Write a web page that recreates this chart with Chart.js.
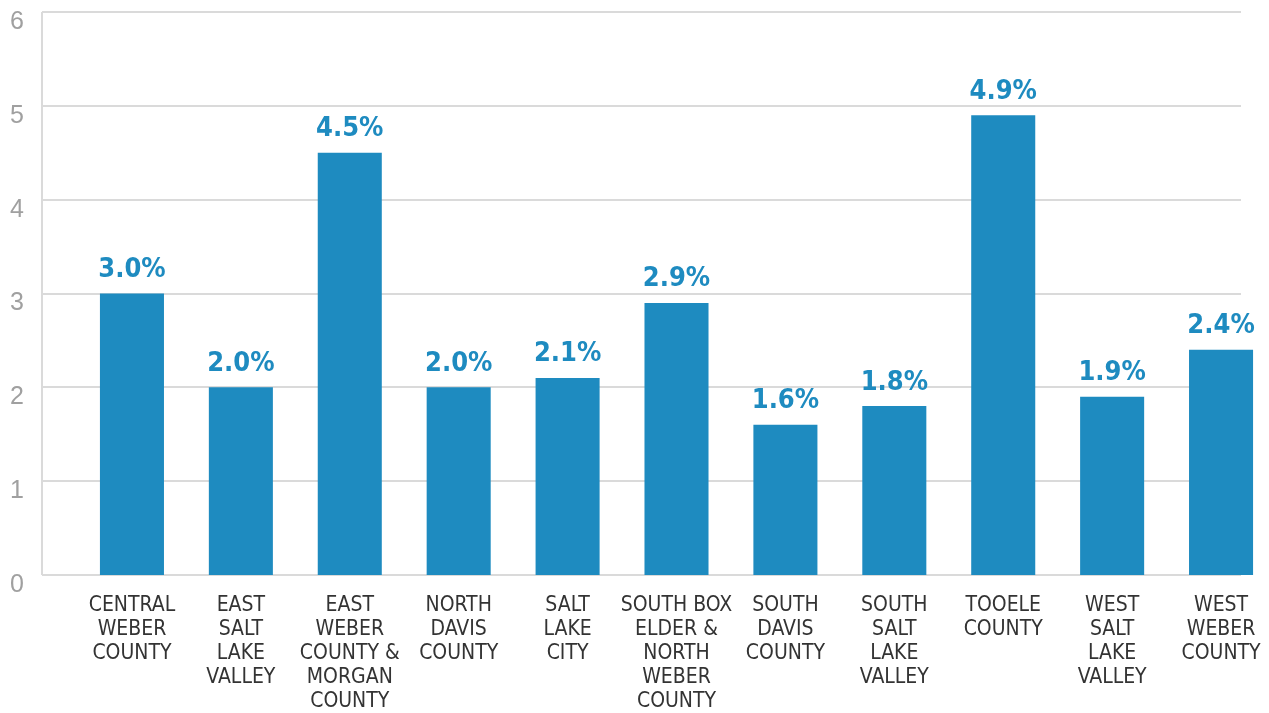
<!DOCTYPE html>
<html>
<head>
<meta charset="utf-8">
<script src="https://cdn.jsdelivr.net/npm/chart.js@4/dist/chart.umd.min.js"></script>
<style>
  html, body { margin: 0; padding: 0; background: #fff; overflow: hidden; }
  #wrap { width: 1290px; height: 713px; position: relative; }
</style>
</head>
<body>
<div id="wrap"><canvas id="rateChart"></canvas></div>
<script>
// Regions (multi-line labels as drawn under each bar)
const regions = [
    ["CENTRAL", "WEBER", "COUNTY"],
    ["EAST", "SALT", "LAKE", "VALLEY"],
    ["EAST", "WEBER", "COUNTY &", "MORGAN", "COUNTY"],
    ["NORTH", "DAVIS", "COUNTY"],
    ["SALT", "LAKE", "CITY"],
    ["SOUTH BOX", "ELDER &", "NORTH", "WEBER", "COUNTY"],
    ["SOUTH", "DAVIS", "COUNTY"],
    ["SOUTH", "SALT", "LAKE", "VALLEY"],
    ["TOOELE", "COUNTY"],
    ["WEST", "SALT", "LAKE", "VALLEY"],
    ["WEST", "WEBER", "COUNTY"]
];
const rates = [3.0, 2.0, 4.5, 2.0, 2.1, 2.9, 1.6, 1.8, 4.9, 1.9, 2.4];
const yTicks = [0, 1, 2, 3, 4, 5, 6];

const BLUE = "#1e8bc0";
const NARROW = "'Liberation Sans Narrow', 'DejaVu Sans Condensed', 'Liberation Sans', sans-serif";

// horizontal grid lines + left axis line, drawn wider than the bar area
const gridPlugin = {
    id: "gridLines",
    beforeDatasetsDraw(chart) {
        const ctx = chart.ctx;
        const y = chart.scales.y;
        const x0 = 42, x1 = 1241;
        ctx.save();
        ctx.strokeStyle = "#dadada";
        ctx.lineWidth = 2;
        yTicks.forEach(v => {
            const py = Math.round(y.getPixelForValue(v));
            ctx.beginPath();
            ctx.moveTo(x0, py);
            ctx.lineTo(x1, py);
            ctx.stroke();
        });
        ctx.beginPath();
        ctx.moveTo(x0, y.getPixelForValue(yTicks[yTicks.length - 1]));
        ctx.lineTo(x0, y.getPixelForValue(0));
        ctx.stroke();
        ctx.restore();
    }
};

// percentage labels above each bar
const valueLabels = {
    id: "valueLabels",
    afterDatasetsDraw(chart) {
        const ctx = chart.ctx;
        const meta = chart.getDatasetMeta(0);
        ctx.save();
        ctx.fillStyle = BLUE;
        ctx.font = "bold 27px " + NARROW;
        ctx.textAlign = "center";
        ctx.textBaseline = "bottom";
        meta.data.forEach((bar, i) => {
            ctx.fillText(rates[i].toFixed(1) + "%", bar.x, bar.y - 10);
        });
        ctx.restore();
    }
};

new Chart(document.getElementById("rateChart").getContext("2d"), {
    type: "bar",
    data: {
        labels: regions,
        datasets: [{
            data: rates,
            backgroundColor: BLUE,
            categoryPercentage: 1,
            barPercentage: 0.588,
            clip: false
        }]
    },
    options: {
        responsive: true,
        maintainAspectRatio: false,
        animation: false,
        layout: { padding: { top: 12, left: 10, right: 14.5, bottom: 0 } },
        plugins: {
            legend: { display: false },
            tooltip: { enabled: false }
        },
        scales: {
            x: {
                grid: { display: false, drawTicks: false },
                border: { display: false },
                afterFit(scale) {
                    scale.height = 138;
                    scale.paddingLeft = 0;
                    scale.paddingRight = 0;
                },
                ticks: {
                    color: "#333333",
                    font: { family: NARROW, size: 21, lineHeight: 1.14 },
                    padding: 19,
                    maxRotation: 0,
                    autoSkip: false
                }
            },
            y: {
                min: 0,
                max: 6,
                grid: { display: false, drawTicks: false },
                border: { display: false },
                afterFit(scale) {
                    scale.width = 67.5;
                    scale.paddingTop = 0;
                    scale.paddingBottom = 0;
                },
                ticks: {
                    stepSize: 1,
                    color: "#a0a0a0",
                    crossAlign: "far",
                    labelOffset: 10,
                    font: { family: "'Liberation Sans', sans-serif", size: 25 }
                }
            }
        }
    },
    plugins: [gridPlugin, valueLabels]
});
</script>
</body>
</html>
